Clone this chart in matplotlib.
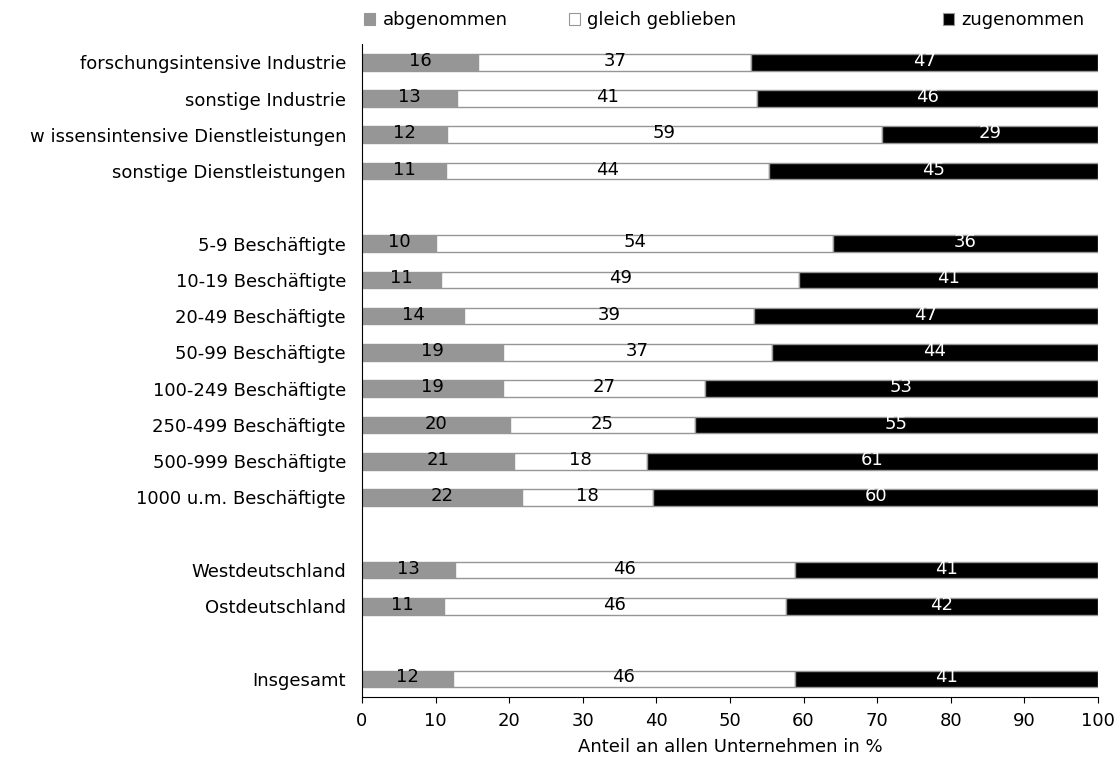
import matplotlib
matplotlib.use("Agg")
import matplotlib.pyplot as plt
from matplotlib.patches import Patch

plt.rcParams['font.family'] = ['DejaVu Sans']

categories = [
    "forschungsintensive Industrie", "sonstige Industrie",
    "w issensintensive Dienstleistungen", "sonstige Dienstleistungen", "",
    "5-9 Beschäftigte", "10-19 Beschäftigte", "20-49 Beschäftigte",
    "50-99 Beschäftigte", "100-249 Beschäftigte", "250-499 Beschäftigte",
    "500-999 Beschäftigte", "1000 u.m. Beschäftigte", "",
    "Westdeutschland", "Ostdeutschland", "", "Insgesamt",
]
abgenommen = [15.8, 12.9, 11.5, 11.4, None, 10.1, 10.8, 13.9, 19.1, 19.2, 20.1, 20.7, 21.7,
              None, 12.6, 11.1, None, 12.4]
gleich = [37.1, 40.8, 59.1, 43.9, None, 53.9, 48.6, 39.3, 36.6, 27.4, 25.1, 18.0, 17.9,
          None, 46.2, 46.5, None, 46.4]
zugenommen = [47.1, 46.3, 29.4, 44.7, None, 36.0, 40.6, 46.8, 44.3, 53.4, 54.8, 61.3, 60.4,
              None, 41.2, 42.4, None, 41.2]
series_names = ["abgenommen", "gleich geblieben", "zugenommen"]
xticks = list(range(0, 101, 10))

FS = 13
fig = plt.figure(figsize=(11.2, 7.74), dpi=100)
ax = fig.add_axes([0.3232, 0.0995, 0.6571, 0.8435])

colors = ["#969696", "#ffffff", "#000000"]
textcolors = ["black", "black", "white"]
ypos = list(range(len(categories)))

for i, cat in enumerate(categories):
    if abgenommen[i] is None:
        continue
    left = 0
    for vals, c, tc in zip([abgenommen, gleich, zugenommen], colors, textcolors):
        v = vals[i]
        ax.barh(i, v, left=left, height=0.46, color=c, edgecolor="#969696", linewidth=1)
        ax.text(left + v / 2, i - 0.04, f"{v:.0f}", ha="center", va="center",
                fontsize=FS, color=tc)
        left += v

ax.set_ylim(len(categories) - 0.5, -0.5)
ax.set_xlim(0, 100)
ax.set_yticks(ypos)
ax.set_yticklabels(categories, fontsize=FS)
ax.tick_params(axis="y", length=0, pad=11.5)
ax.set_xticks(xticks)
ax.tick_params(axis="x", direction="out", length=4.5, labelsize=FS, pad=6)
ax.spines["top"].set_visible(False)
ax.spines["right"].set_visible(False)
ax.set_xlabel("Anteil an allen Unternehmen in %", fontsize=FS, labelpad=6)

legend_x = [0.325, 0.508, 0.842]
for name, c, lx in zip(series_names, colors, legend_x):
    h = Patch(facecolor=c, edgecolor="#969696", linewidth=0.8)
    fig.legend([h], [name], loc="center left", frameon=False,
               bbox_to_anchor=(lx, 0.974), fontsize=FS, borderaxespad=0, borderpad=0,
               handlelength=0.62, handleheight=0.62, handletextpad=0.4)

fig.savefig("out.png", dpi=100)
